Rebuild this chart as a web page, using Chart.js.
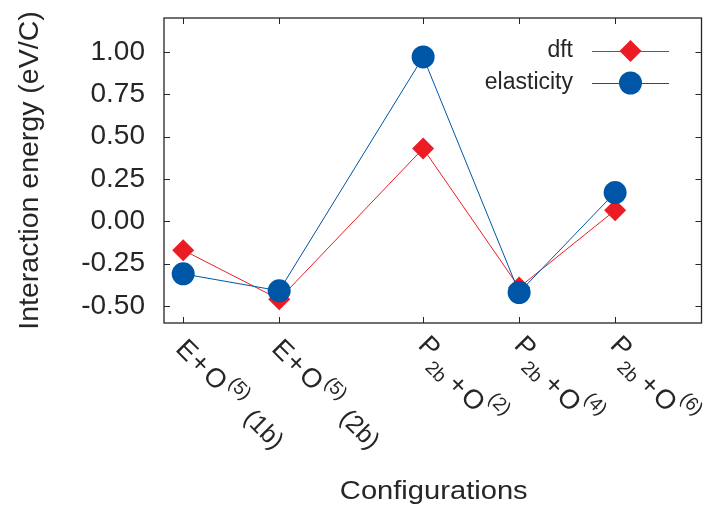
<!DOCTYPE html>
<html><head><meta charset="utf-8">
<script src="https://cdn.jsdelivr.net/npm/chart.js@4/dist/chart.umd.min.js"></script>
<style>html,body{margin:0;padding:0;background:#fff}#wrap{width:713px;height:511px}</style>
</head><body><div id="wrap"><canvas id="c" width="713" height="511"></canvas></div>
<script>
// ---- data ----
const categories = ["E+O(5) (1b)", "E+O(5) (2b)", "P2b+O(2)", "P2b+O(4)", "P2b+O(6)"];
const xPositions = [1, 2, 3.5, 4.5, 5.5];
const dftValues = [-0.17, -0.46, 0.43, -0.39, 0.065];
const elasticityValues = [-0.31, -0.41, 0.97, -0.42, 0.17];
const yTickValues = [-0.5, -0.25, 0, 0.25, 0.5, 0.75, 1.0];
const seriesNames = ["dft", "elasticity"];
const yTitle = "Interaction energy (eV/C)";
const xTitle = "Configurations";
// rich-text pieces of each category label
const labelParts = [
  [["E","n"],["+","p"],["O","o"],["(5)","sup"],["(1b)","low"]],
  [["E","n"],["+","p"],["O","o"],["(5)","sup"],["(2b)","low"]],
  [["P","n"],["2b","sub"],["+","plus"],["O","mid"],["(2)","sup2"]],
  [["P","n"],["2b","sub"],["+","plus"],["O","mid"],["(4)","sup2"]],
  [["P","n"],["2b","sub"],["+","plus"],["O","mid"],["(6)","sup2"]]
];

const RED = '#ec1c24', BLUE = '#0056a6', INK = '#262626';
const FONT = '"Liberation Sans", Arial, Helvetica, sans-serif';
const roleStyle = {
  n:    {size: 27, dy: 0,    gap: 0},
  p:    {size: 27, dy: 0,    gap: 1.5},
  o:    {size: 27, dy: 0,    gap: 3},
  sup:  {size: 19, dy: -13,  gap: 2.5},
  low:  {size: 25, dy: 1,    gap: 12},
  sub:  {size: 19, dy: 10.5, gap: 2.5},
  plus: {size: 27, dy: 7,    gap: 6.5},
  mid:  {size: 27, dy: 6.5,  gap: 2.5},
  sup2: {size: 19, dy: -12,  gap: 0}
};

function drawRichLabel(ctx, parts, x, y) {
  ctx.save();
  ctx.translate(x, y);
  ctx.rotate(Math.PI / 4);
  ctx.fillStyle = INK;
  ctx.textAlign = 'left';
  ctx.textBaseline = 'alphabetic';
  let u = 0;
  for (const [txt, role] of parts) {
    const st = roleStyle[role];
    u += st.gap;
    ctx.font = st.size + 'px ' + FONT;
    ctx.fillText(txt, u, st.dy);
    u += ctx.measureText(txt).width;
  }
  ctx.restore();
}

const framePlugin = {
  id: 'frame',
  beforeDatasetsDraw(chart) {
    const {ctx, chartArea: a, scales: {x, y}} = chart;
    ctx.save();
    ctx.strokeStyle = INK;
    ctx.lineWidth = 1.3;
    ctx.strokeRect(a.left, a.top, a.right - a.left, a.bottom - a.top);
    ctx.lineWidth = 1;
    const tl = 6;
    ctx.beginPath();
    for (const v of yTickValues) {
      const py = Math.round(y.getPixelForValue(v)) + 0.5;
      ctx.moveTo(a.left, py); ctx.lineTo(a.left + tl, py);
      ctx.moveTo(a.right, py); ctx.lineTo(a.right - tl, py);
    }
    for (const v of xPositions) {
      const px = Math.round(x.getPixelForValue(v)) + 0.5;
      ctx.moveTo(px, a.bottom); ctx.lineTo(px, a.bottom - tl);
      ctx.moveTo(px, a.top); ctx.lineTo(px, a.top + tl);
    }
    ctx.stroke();
    ctx.restore();
  },
  afterDraw(chart) {
    const {ctx, chartArea: a, scales: {x}} = chart;
    // category labels
    xPositions.forEach((v, i) => {
      const isP = labelParts[i][0][0] === 'P';
      const px = x.getPixelForValue(v) + (isP ? -6.1 : -8.6);
      const py = a.bottom + (isP ? 23.6 : 26.9);
      drawRichLabel(ctx, labelParts[i], px, py);
    });
    ctx.save();
    ctx.fillStyle = INK;
    // x axis title
    ctx.save();
    ctx.translate((a.left + a.right) / 2 + 1, 499);
    ctx.scale(1.12, 1);
    ctx.font = '26px ' + FONT;
    ctx.textAlign = 'center';
    ctx.textBaseline = 'alphabetic';
    ctx.fillText(xTitle, 0, 0);
    ctx.restore();
    // y axis title
    ctx.save();
    ctx.translate(38, (a.top + a.bottom) / 2);
    ctx.rotate(-Math.PI / 2);
    ctx.font = '28.5px ' + FONT;
    ctx.textAlign = 'center';
    ctx.textBaseline = 'alphabetic';
    ctx.fillText(yTitle, 0, 0);
    ctx.restore();
    // legend
    const rows = [
      {name: seriesNames[0], color: RED, style: 'diamond', y: 51},
      {name: seriesNames[1], color: BLUE, style: 'circle', y: 83}
    ];
    ctx.font = '23px ' + FONT;
    ctx.textAlign = 'right';
    ctx.textBaseline = 'middle';
    for (const r of rows) {
      ctx.fillStyle = INK;
      ctx.fillText(r.name, 573, r.y);
      ctx.strokeStyle = r.color;
      ctx.lineWidth = 1;
      ctx.beginPath();
      ctx.moveTo(592, r.y + 0.5); ctx.lineTo(669, r.y + 0.5);
      ctx.stroke();
      ctx.fillStyle = r.color;
      ctx.beginPath();
      const cx = 630.5, rr = r.style === 'circle' ? 11.5 : 11;
      if (r.style === 'circle') {
        ctx.arc(cx, r.y, rr, 0, Math.PI * 2);
      } else {
        ctx.moveTo(cx - rr, r.y); ctx.lineTo(cx, r.y - rr);
        ctx.lineTo(cx + rr, r.y); ctx.lineTo(cx, r.y + rr);
        ctx.closePath();
      }
      ctx.fill();
    }
    ctx.restore();
  }
};

new Chart(document.getElementById('c'), {
  type: 'scatter',
  data: {
    datasets: [
      {
        label: seriesNames[0],
        data: xPositions.map((v, i) => ({x: v, y: dftValues[i]})),
        showLine: true,
        borderColor: RED,
        backgroundColor: RED,
        borderWidth: 1,
        pointStyle: 'rectRot',
        pointRadius: 11,
        pointBorderWidth: 0,
        pointHoverRadius: 11,
        order: 2
      },
      {
        label: seriesNames[1],
        data: xPositions.map((v, i) => ({x: v, y: elasticityValues[i]})),
        showLine: true,
        borderColor: BLUE,
        backgroundColor: BLUE,
        borderWidth: 1,
        pointStyle: 'circle',
        pointRadius: 11.5,
        pointBorderWidth: 0,
        pointHoverRadius: 11.5,
        order: 1
      }
    ]
  },
  options: {
    responsive: false,
    animation: false,
    events: [],
    layout: {padding: {left: 0, right: 8, top: 18, bottom: 0}},
    plugins: {legend: {display: false}, tooltip: {enabled: false}},
    scales: {
      x: {
        type: 'linear', min: 0.8, max: 6.4,
        grid: {display: false, drawTicks: false}, border: {display: false},
        ticks: {display: false},
        afterFit(s) { s.height = 511 - 323; s.paddingLeft = 0; s.paddingRight = 0; }
      },
      y: {
        type: 'linear', min: -0.6, max: 1.2,
        grid: {display: false, drawTicks: false}, border: {display: false},
        afterBuildTicks(s) { s.ticks = yTickValues.map(v => ({value: v})); },
        ticks: {
          padding: 19,
          color: INK,
          font: {family: FONT, size: 28},
          callback: v => v.toFixed(2)
        },
        afterFit(s) { s.width = 164; s.paddingTop = 0; s.paddingBottom = 0; }
      }
    }
  },
  plugins: [framePlugin]
});
</script>
</body></html>
